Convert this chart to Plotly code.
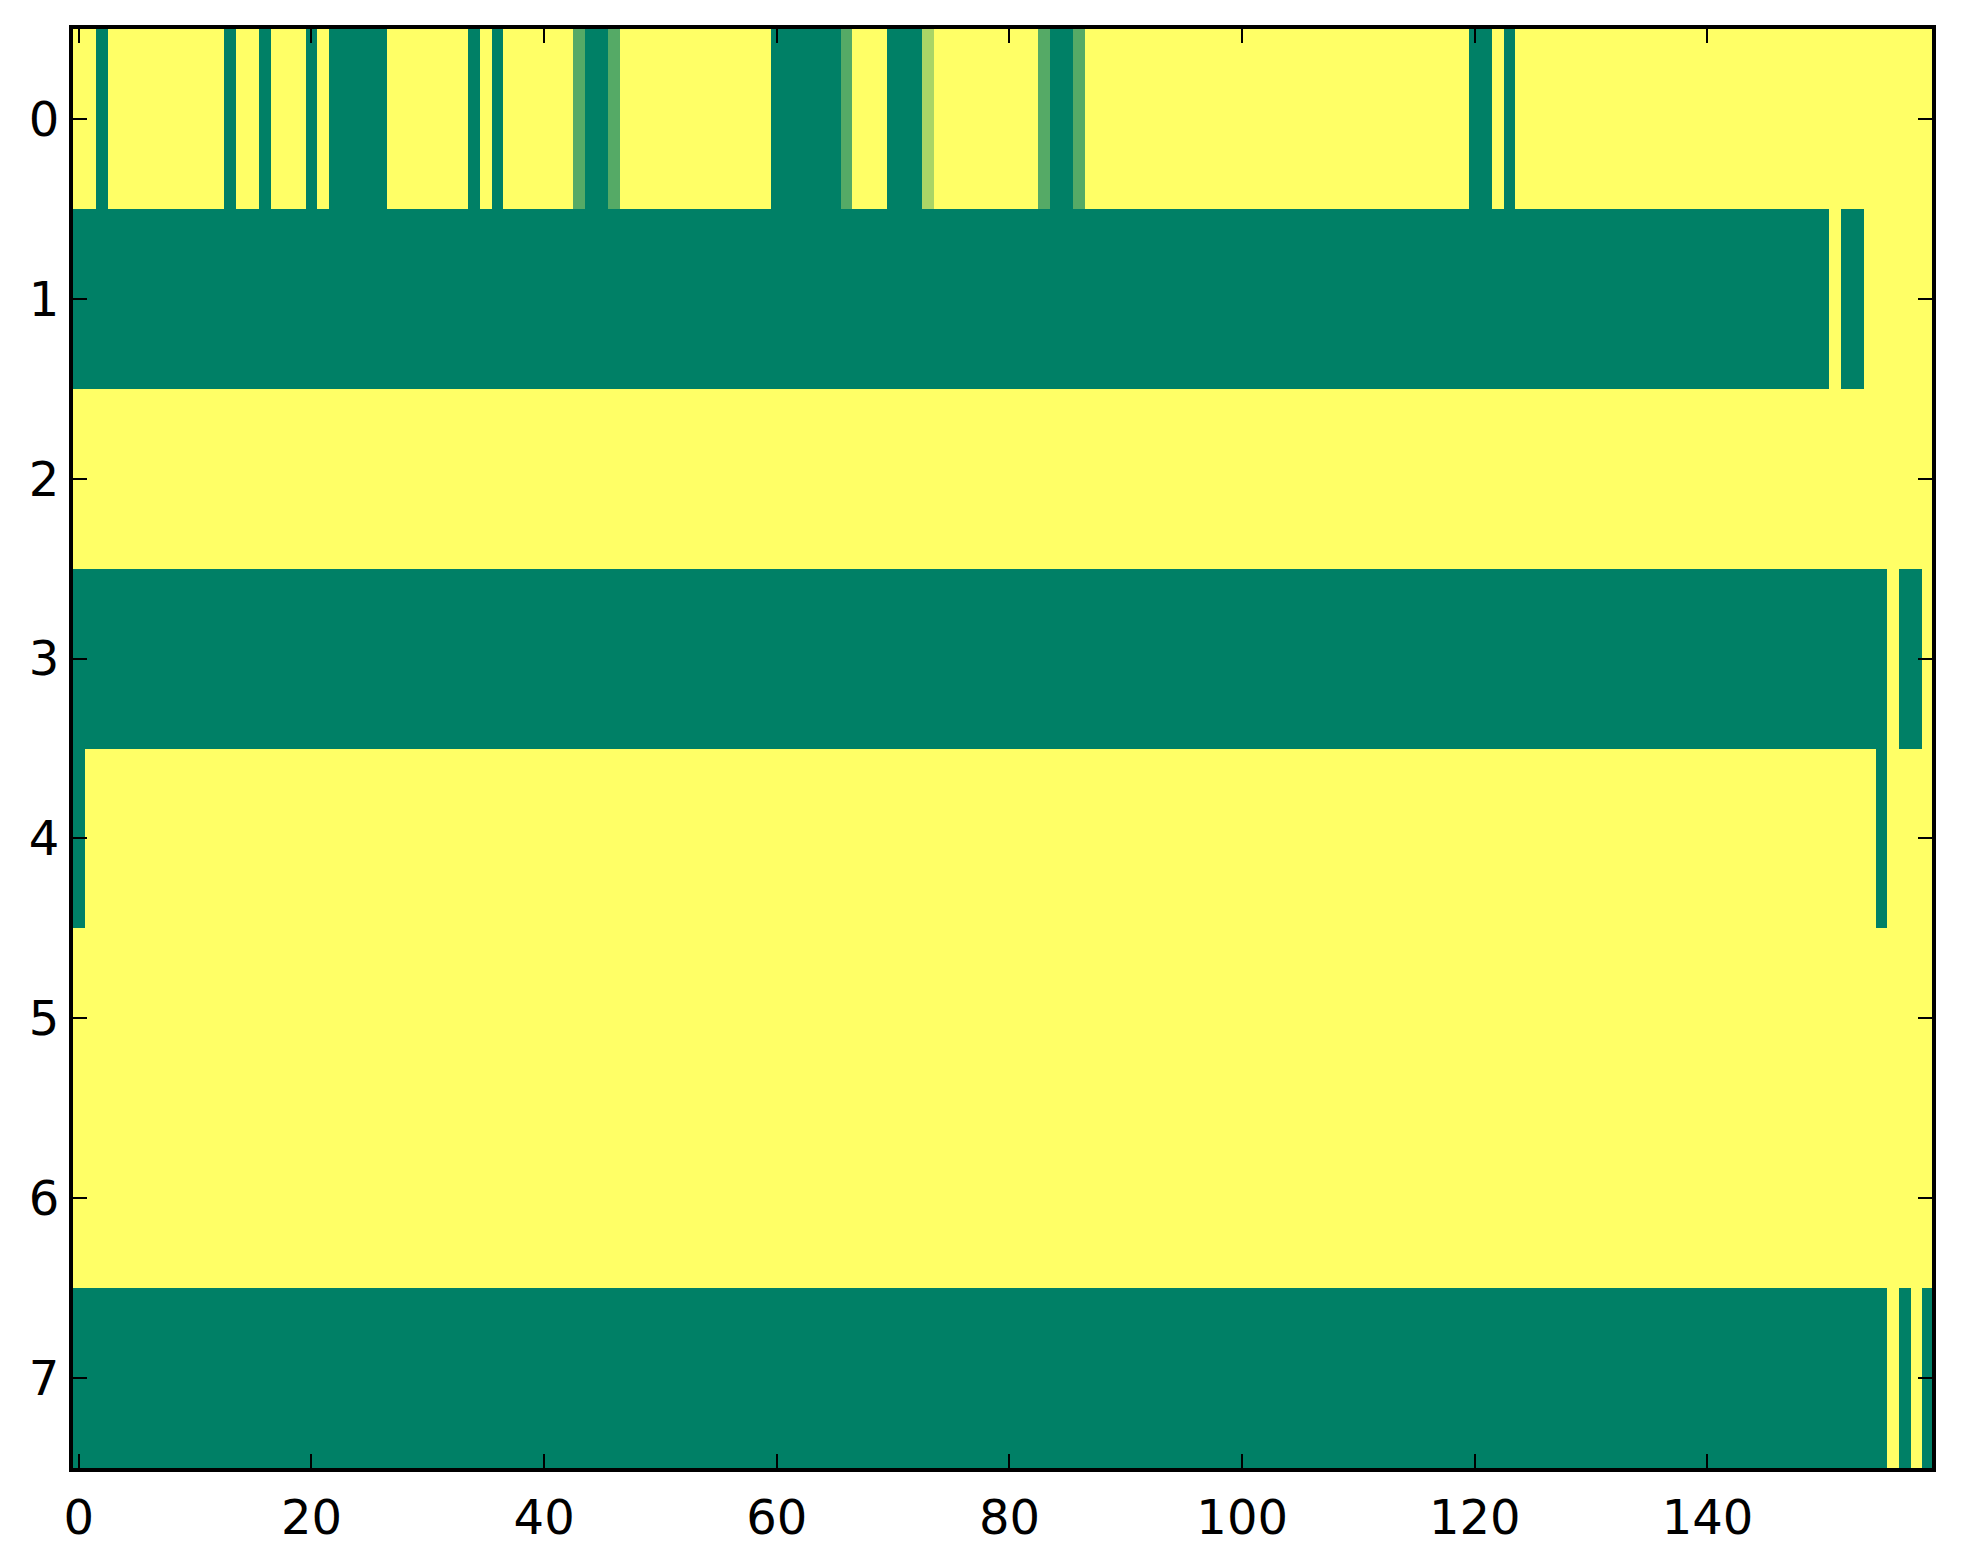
import plotly.graph_objects as go

# Run-length encoded rows: (value, count); 0 = green end, 1 = yellow end of "summer" colormap
row0 = [(1, 2), (0, 1), (1, 10), (0, 1), (1, 2), (0, 1), (1, 3), (0, 1), (1, 1), (0, 5),
        (1, 7), (0, 1), (1, 1), (0, 1), (1, 6), (0.333, 1), (0, 2), (0.333, 1), (1, 13),
        (0, 6), (0.333, 1), (1, 3), (0, 3), (0.667, 1), (1, 9), (0.333, 1), (0, 2),
        (0.333, 1), (1, 33), (0, 2), (1, 1), (0, 1), (1, 36)]
row1 = [(0, 151), (1, 1), (0, 2), (1, 6)]
row2 = [(1, 160)]
row3 = [(0, 156), (1, 1), (0, 2), (1, 1)]
row4 = [(0, 1), (1, 154), (0, 1), (1, 4)]
row5 = [(1, 160)]
row6 = [(1, 160)]
row7 = [(0, 156), (1, 1), (0, 1), (1, 1), (0, 1)]

rows = [row0, row1, row2, row3, row4, row5, row6, row7]
x_ticks = [0, 20, 40, 60, 80, 100, 120, 140]
y_ticks = [0, 1, 2, 3, 4, 5, 6, 7]


def expand(runs):
    out = []
    for v, n in runs:
        out.extend([v] * n)
    return out


z = [expand(r) for r in rows]
ncols = len(z[0])

fig = go.Figure(go.Heatmap(
    z=z,
    x=list(range(ncols)),
    y=list(range(len(z))),
    colorscale=[[0, "#008066"], [1, "#ffff66"]],
    zmin=0, zmax=1,
    showscale=False,
    hoverinfo="skip",
))

axis_common = dict(
    showgrid=False, zeroline=False, automargin=False,
    showline=True, linecolor="black", linewidth=4, mirror="ticks",
    ticks="inside", ticklen=14, tickwidth=2, tickcolor="black",
    tickfont=dict(family="DejaVu Sans", size=48, color="black"),
)

fig.update_xaxes(range=[-0.5, 159.3], tickvals=x_ticks, ticktext=[str(t) for t in x_ticks],
                 ticklabelstandoff=4, **axis_common)
fig.update_yaxes(range=[7.5, -0.5], tickvals=y_ticks, ticktext=[str(t) for t in y_ticks], **axis_common)

fig.update_layout(
    width=1947, height=1548,
    margin=dict(l=65, r=23, t=21, b=88),
    paper_bgcolor="white", plot_bgcolor="white",
)

fig.write_html("out.html")
